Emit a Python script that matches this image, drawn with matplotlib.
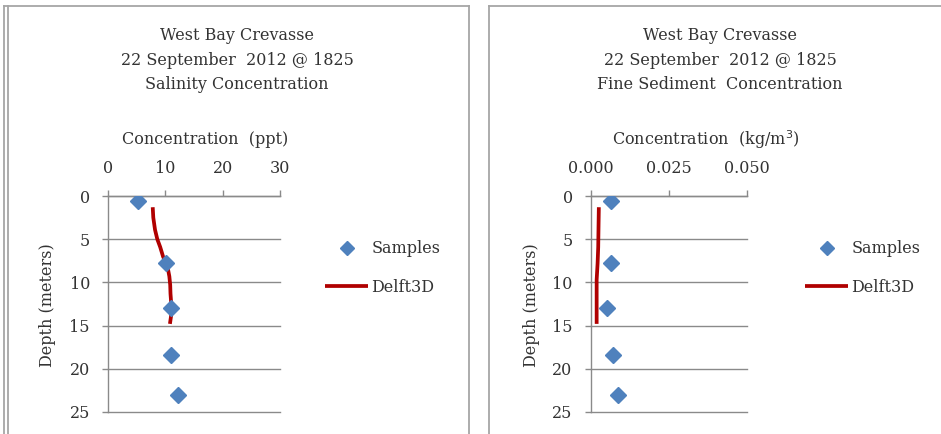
import matplotlib
matplotlib.use("Agg")
import matplotlib.pyplot as plt
from matplotlib.lines import Line2D

# Field samples (depth in meters)
sample_depth = [0.6, 7.8, 13.0, 18.4, 23.0]
sample_salinity = [5.2, 10.2, 11.0, 11.0, 12.2]          # ppt
sample_sediment = [0.0064, 0.0066, 0.0051, 0.0070, 0.0087]  # kg/m3

# Delft3D model profile (salinity)
model_sal_depth = [1.3, 2.5, 3.9, 5.0, 5.9, 7.0, 7.8, 8.6, 9.3, 10.3, 11.3, 12.2, 13.0, 13.9, 14.8]
model_salinity = [7.8, 7.9, 8.2, 8.6, 9.1, 9.6, 10.1, 10.5, 10.7, 10.85, 10.9, 11.0, 11.0, 11.0, 10.8]

# Delft3D model profile (fine sediment)
model_sed_depth = [1.3, 3.5, 5.9, 7.8, 9.7, 11.5, 13.0, 14.8]
model_sediment = [0.0026, 0.0025, 0.0024, 0.0022, 0.0019, 0.0019, 0.0019, 0.0019]

depth_ticks = [0, 5, 10, 15, 20, 25]
sal_ticks = [0, 10, 20, 30]
sed_ticks = [0.000, 0.025, 0.050]
sed_tick_labels = ["0.000", "0.025", "0.050"]

W, H = 941, 434
fig = plt.figure(figsize=(W / 100, H / 100), dpi=100)
fig.patch.set_facecolor("white")

FONT = ["DejaVu Serif"]
TXT = "#333333"
GRID = "#8a8a8a"
BLUE = "#4F81BD"
RED = "#B00000"
FS = 11.5


def fx(px):
    return px / W


def fy(py):
    return 1 - py / H


# Chart frames
border = "#a6a6a6"
for x0, x1 in [(4, 469), (489, 945)]:
    fig.add_artist(Line2D([fx(x0), fx(x1)], [fy(5.5), fy(5.5)], color=border, lw=1.3))
    fig.add_artist(Line2D([fx(x0), fx(x0)], [fy(5.5), fy(440)], color=border, lw=1.3))
    fig.add_artist(Line2D([fx(x1), fx(x1)], [fy(5.5), fy(440)], color=border, lw=1.3))
fig.add_artist(Line2D([fx(8), fx(8)], [fy(5.5), fy(440)], color=border, lw=1.3))


def setup(ax, xlim, xticks, xticklabels):
    ax.set_xlim(*xlim)
    ax.set_ylim(25, 0)
    ax.xaxis.tick_top()
    ax.set_xticks(xticks)
    ax.set_xticklabels(xticklabels)
    ax.set_yticks(depth_ticks)
    ax.set_yticklabels([str(t) for t in depth_ticks])
    for s in ["right", "bottom"]:
        ax.spines[s].set_visible(False)
    for s in ["top", "left"]:
        ax.spines[s].set_color(GRID)
        ax.spines[s].set_linewidth(1.0)
    ax.tick_params(axis="both", direction="out", length=4, width=1.0, color=GRID,
                   labelcolor=TXT, labelsize=FS)
    ax.tick_params(axis="x", pad=10)
    ax.tick_params(axis="y", pad=9)
    for lab in ax.get_xticklabels() + ax.get_yticklabels():
        lab.set_family(FONT)
    ax.yaxis.grid(True, color=GRID, lw=1.0)
    for gl in ax.get_ygridlines():
        gl.set_clip_on(False)
    ax.set_axisbelow(True)
    ax.set_facecolor("none")


# ---- Salinity panel ----
ax1 = fig.add_axes([fx(108), fy(412), fx(280) - fx(108), fy(196) - fy(412)])
setup(ax1, (0, 30), sal_ticks, [str(t) for t in sal_ticks])
ax1.plot(model_salinity, model_sal_depth, color=RED, lw=2.7, solid_capstyle="butt",
         label="Delft3D", zorder=3)
ax1.plot(sample_salinity, sample_depth, linestyle="none", marker="D", ms=8.5,
         color=BLUE, label="Samples", zorder=4)

fig.text(fx(237), fy(60), "West Bay Crevasse\n22 September  2012 @ 1825\nSalinity Concentration",
         ha="center", va="center", fontsize=FS, color=TXT, family=FONT, linespacing=1.55)
fig.text(fx(205), fy(140), "Concentration  (ppt)", ha="center", va="center",
         fontsize=FS, color=TXT, family=FONT)
fig.text(fx(48), fy(305), "Depth (meters)", ha="center", va="center", rotation=90,
         fontsize=FS, color=TXT, family=FONT)

# ---- Fine sediment panel ----
ax2 = fig.add_axes([fx(590.7), fy(412), fx(747.3) - fx(590.7), fy(196) - fy(412)])
setup(ax2, (0, 0.05), sed_ticks, sed_tick_labels)
ax2.plot(model_sediment, model_sed_depth, color=RED, lw=2.7, solid_capstyle="butt",
         label="Delft3D", zorder=3)
ax2.plot(sample_sediment, sample_depth, linestyle="none", marker="D", ms=8.5,
         color=BLUE, label="Samples", zorder=4)

fig.text(fx(720), fy(60), "West Bay Crevasse\n22 September  2012 @ 1825\nFine Sediment  Concentration",
         ha="center", va="center", fontsize=FS, color=TXT, family=FONT, linespacing=1.55)
fig.text(fx(706), fy(140), "Concentration  (kg/m$^3$)", ha="center", va="center",
         fontsize=FS, color=TXT, family=FONT)
fig.text(fx(531), fy(305), "Depth (meters)", ha="center", va="center", rotation=90,
         fontsize=FS, color=TXT, family=FONT)

# Legends
for ax, lx in [(ax1, 325), (ax2, 805)]:
    h, l = ax.get_legend_handles_labels()
    order = [1, 0]
    leg = ax.legend([h[i] for i in order], [l[i] for i in order],
                    loc="center left", bbox_to_anchor=(fx(lx), fy(268)),
                    bbox_transform=fig.transFigure, frameon=False, borderpad=0,
                    borderaxespad=0, handlelength=2.7, handletextpad=0.2,
                    labelspacing=1.35, markerscale=0.8,
                    prop={"family": FONT, "size": FS})
    for t in leg.get_texts():
        t.set_color(TXT)

fig.savefig("out.png", dpi=100, facecolor="white")
